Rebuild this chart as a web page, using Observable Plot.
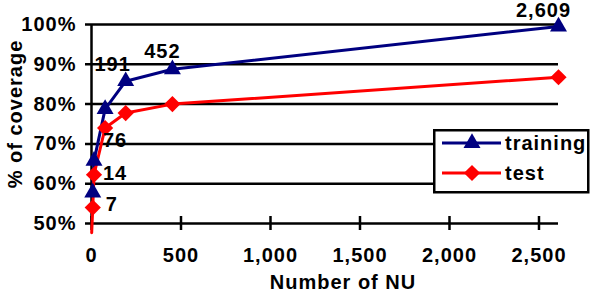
<!DOCTYPE html>
<html><head><meta charset="utf-8">
<script src="https://cdn.jsdelivr.net/npm/d3@7"></script>
<script src="https://cdn.jsdelivr.net/npm/@observablehq/plot@0.6"></script>
<style>
body{margin:0;background:#fff;}
#chart{position:relative;width:592px;height:294px;font-family:"Liberation Sans",Arial,sans-serif;font-weight:bold;}
#legend{position:absolute;left:433px;top:129px;}
</style></head><body><div id="chart"></div>
<script>
// Data
const nu = [7, 14, 76, 191, 452, 2609];
const training = [57.75, 65.75, 78.75, 85.75, 88.75, 99.5];
const testNU = [1, 7, 14, 76, 191, 452, 2609];
const test = [47.7, 54, 62.25, 74, 77.75, 80, 86.75];
const nuLabels = ["7", "14", "76", "191", "452", "2,609"];
const yTicks = [50, 60, 70, 80, 90, 100];
const xTicks = [0, 500, 1000, 1500, 2000, 2500];
const seriesNames = ["training", "test"];
const seriesColors = ["#000080", "#ff0000"];

const trainData = nu.map((n, i) => ({nu: n, pct: training[i], label: nuLabels[i]}));
const testData = testNU.map((n, i) => ({nu: n, pct: test[i]}));

// label offsets (style), relative to training points
const labelOffsets = [[19, 12], [21, 13], [10, 32], [-13, -17], [-10, -18], [-15, -16]];

const font = "'Liberation Sans', Arial, sans-serif";
const labelMarks = trainData.map((d, i) => Plot.text([d], {
  x: "nu", y: "pct", text: "label", dx: labelOffsets[i][0], dy: labelOffsets[i][1],
  fill: "#000", textAnchor: "middle", lineAnchor: "middle"
}));

const plot = Plot.plot({
  width: 592, height: 294,
  marginLeft: 91, marginRight: 34, marginTop: 24, marginBottom: 71,
  style: {fontFamily: font, fontSize: "20px", fontWeight: "bold", letterSpacing: "1px", background: "#fff", overflow: "visible", color: "#000"},
  x: {domain: [0, 2609]},
  y: {domain: [50, 100]},
  marks: [
    Plot.ruleY(yTicks, {y: d => d, stroke: "#000", strokeWidth: 2.5, insetLeft: -6}),
    Plot.ruleX([0], {stroke: "#000", strokeWidth: 2.5}),
    Plot.ruleX(xTicks, {x: d => d, y1: 50, y2: 50, insetTop: -7, insetBottom: -7, stroke: "#000", strokeWidth: 2.5}),
    Plot.axisY({ticks: yTicks, tickSize: 0, tickPadding: 15, tickFormat: d => d + "%", label: null, fill: "#000"}),
    Plot.axisX({ticks: xTicks, tickSize: 0, tickPadding: 24, tickFormat: d3.format(","), label: null, fill: "#000"}),
    Plot.line(trainData, {x: "nu", y: "pct", stroke: seriesColors[0], strokeWidth: 3}),
    Plot.line(testData, {x: "nu", y: "pct", stroke: seriesColors[1], strokeWidth: 3}),
    Plot.dot(trainData, {x: "nu", y: "pct", symbol: "triangle", r: 6.3, fill: seriesColors[0], stroke: "none"}),
    Plot.dot(testData.filter(d => d.pct >= 50), {x: "nu", y: "pct", symbol: "diamond2", r: 7.3, fill: seriesColors[1], stroke: "none"}),
    ...labelMarks,
    Plot.text(["% of coverage"], {text: d => d, frameAnchor: "left", textAnchor: "middle", lineAnchor: "middle", rotate: -90, dx: -76, dy: -10, fill: "#000"}),
    Plot.text(["Number of NU"], {text: d => d, frameAnchor: "bottom", textAnchor: "middle", lineAnchor: "middle", dx: 18, dy: 59, fill: "#000"})
  ]
});
document.getElementById("chart").appendChild(plot);

// Legend
const lg = d3.select("#chart").append("svg").attr("id", "legend")
  .attr("width", 158).attr("height", 66)
  .style("font-family", font).style("font-size", "20px").style("font-weight", "bold").style("letter-spacing", "1px");
lg.append("rect").attr("x", 1.25).attr("y", 1.25).attr("width", 154).attr("height", 62)
  .attr("fill", "#fff").attr("stroke", "#000").attr("stroke-width", 2.5);
const symbols = [d3.symbolTriangle, d3.symbolDiamond2];
const sizes = [Math.PI * 6.3 * 6.3, Math.PI * 7.3 * 7.3];
seriesNames.forEach((name, i) => {
  const y = 14 + i * 30;
  lg.append("line").attr("x1", 9).attr("x2", 68).attr("y1", y).attr("y2", y)
    .attr("stroke", seriesColors[i]).attr("stroke-width", 3);
  lg.append("path").attr("d", d3.symbol(symbols[i], sizes[i])()).attr("transform", `translate(39,${y})`)
    .attr("fill", seriesColors[i]);
  lg.append("text").attr("x", 72).attr("y", y).attr("dy", "0.35em").text(name);
});
</script>
</body></html>
